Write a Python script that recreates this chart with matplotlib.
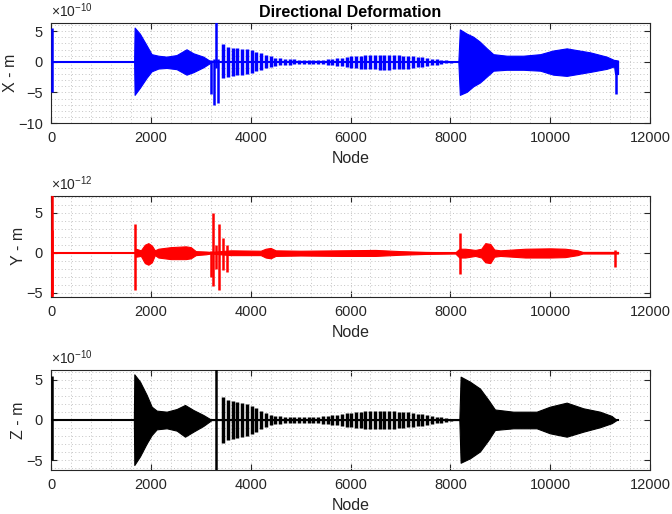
import matplotlib.pyplot as plt
import numpy as np
from matplotlib.ticker import MultipleLocator

plt.rcParams['font.family'] = ['Liberation Sans', 'DejaVu Sans']
plt.rcParams['mathtext.fontset'] = 'custom'
plt.rcParams['mathtext.rm'] = 'Liberation Sans'

last_node = 11360

# nodes of the separate bursts between 3450 and 8010 (same for X and Z)
comb_nodes = [3450, 3545, 3640, 3735, 3830, 3925, 4020, 4115, 4210, 4305,
              4400, 4495, 4590, 4685, 4780, 4875, 4970, 5065, 5160, 5255,
              5350, 5445, 5540, 5635, 5730, 5825, 5920, 6015, 6110, 6205,
              6300, 6395, 6490, 6585, 6680, 6775, 6870, 6965, 7060, 7155,
              7250, 7345, 7440, 7535, 7630, 7725, 7820, 7915, 8010]

# ---- X direction (x 1e-10 m)
x_env_nodes = [1665, 1675, 1780, 1915, 2015, 2150, 2315, 2515, 2715, 2850, 3050, 3185, 3220,
               8160, 8190, 8330, 8460, 8590, 8730, 8860, 9130, 9460, 9800, 10060, 10330,
               10800, 11130, 11280, 11300, 11360]
x_env_top = [0, 5.6, 4.6, 2.7, 1.25, 1.0, 0.85, 1.1, 2.05, 1.4, 0.85, 0.15, 0,
             0, 5.3, 4.6, 4.1, 3.3, 2.2, 1.25, 1.0, 1.0, 1.25, 1.85, 2.2,
             1.55, 0.85, 0.3, 0.3, 0.2]
x_env_bot = [0, -5.4, -4.25, -2.6, -1.55, -1.1, -1.0, -1.2, -2.1, -1.7, -0.9, -0.2, 0,
             0, -5.4, -4.9, -4.0, -3.4, -2.4, -1.45, -1.3, -1.3, -1.45, -2.1, -2.3,
             -1.65, -1.15, -0.75, -2.0, -2.0]
x_spike_nodes = [15, 3200, 3262, 3298, 3350, 11310]
x_spike_top = [5.5, 0.3, 0.5, 6.6, 0.5, 0.0]
x_spike_bot = [-5.0, -5.2, -7.0, -1.0, -6.7, -5.2]
x_comb_top = [2.85, 2.5, 2.3, 2.2, 2.15, 2.05, 1.9, 1.65, 1.4, 1.1,
              0.9, 0.7, 0.55, 0.45, 0.4, 0.38, 0.35, 0.33, 0.32, 0.32,
              0.33, 0.35, 0.4, 0.5, 0.6, 0.7, 0.8, 0.9, 0.95, 1.0,
              1.05, 1.1, 1.13, 1.15, 1.15, 1.13, 1.1, 1.05, 1.0, 0.95,
              0.88, 0.8, 0.72, 0.62, 0.52, 0.42, 0.32, 0.22, 0.15]
x_comb_bot = [-2.63, -2.4, -2.3, -2.2, -2.1, -2.0, -1.8, -1.55, -1.3, -1.0,
              -0.85, -0.7, -0.6, -0.5, -0.45, -0.42, -0.4, -0.38, -0.36, -0.36,
              -0.38, -0.4, -0.45, -0.55, -0.65, -0.75, -0.85, -0.95, -1.05, -1.1,
              -1.15, -1.2, -1.25, -1.28, -1.3, -1.28, -1.25, -1.2, -1.15, -1.1,
              -1.0, -0.9, -0.8, -0.7, -0.58, -0.46, -0.35, -0.25, -0.15]

# ---- Y direction (x 1e-12 m)
y_env_nodes = [1690, 1700, 1800, 1880, 1950, 2020, 2080, 2150, 2400, 2700, 2800, 2900,
               3100, 3200, 3600, 4200, 4300, 4400, 4500, 5000, 5800, 6500, 7000, 7500,
               8100, 8180, 8300, 8500, 8620, 8700, 8800, 8880, 9000, 9500, 10000, 10300,
               10550, 10650, 11280, 11360]
y_env_top = [0, 0.5, 0.3, 1.0, 1.2, 0.9, 0.3, 0.5, 0.7, 0.8, 0.7, 0.2,
             0.15, 0.1, 0.3, 0.25, 0.5, 0.6, 0.3, 0.25, 0.3, 0.35, 0.2, 0.1,
             0.05, 0.5, 0.5, 0.35, 0.5, 1.2, 1.1, 0.4, 0.3, 0.5, 0.55, 0.5,
             0.3, 0.1, 0.1, 0.1]
y_env_bot = [0, -0.5, -0.4, -1.3, -1.5, -1.2, -0.3, -0.6, -0.8, -0.8, -0.7, -0.3,
             -0.2, -0.1, -0.3, -0.3, -0.6, -0.7, -0.4, -0.35, -0.4, -0.4, -0.25, -0.15,
             -0.1, -0.6, -0.6, -0.4, -0.6, -1.2, -1.3, -0.5, -0.4, -0.6, -0.6, -0.55,
             -0.3, -0.1, -0.1, -0.1]
y_spike_nodes = [10, 25, 1683, 3200, 3250, 3300, 3360, 3440, 3520, 8185, 11300]
y_spike_top = [7.2, 2.8, 3.6, 0.2, 5.0, 1.0, 3.6, 1.8, 1.0, 2.5, 0.35]
y_spike_bot = [-5.5, -5.3, -4.7, -3.0, -4.2, -2.0, -4.7, -2.2, -2.4, -2.6, -1.75]

# ---- Z direction (x 1e-10 m)
z_env_nodes = [1660, 1669, 1783, 1917, 2017, 2117, 2317, 2518, 2684, 2851, 3051, 3218,
               8180, 8206, 8393, 8593, 8760, 8893, 9260, 9728, 9995, 10330, 10662,
               10996, 11231, 11331]
z_env_top = [0, 5.66, 4.75, 3.1, 1.65, 1.16, 1.03, 1.36, 1.86, 1.24, 0.62, 0,
             0, 5.37, 4.75, 3.9, 2.5, 1.3, 1.03, 1.03, 1.65, 2.15, 1.45,
             1.03, 0.5, 0]
z_env_bot = [0, -5.58, -4.5, -2.9, -1.86, -1.16, -1.03, -1.32, -2.07, -1.45, -0.74, 0,
             0, -5.3, -4.75, -3.9, -2.5, -1.24, -1.03, -1.03, -1.65, -2.07, -1.45,
             -0.9, -0.4, 0]
z_spike_nodes = [15, 3300]
z_spike_top = [5.5, 6.5]
z_spike_bot = [-5.0, -6.5]
z_comb_top = [2.8, 2.5, 2.3, 2.25, 2.15, 2.0, 1.75, 1.45, 1.15, 0.85,
              0.62, 0.5, 0.45, 0.42, 0.4, 0.4, 0.38, 0.38, 0.38, 0.4,
              0.42, 0.45, 0.5, 0.58, 0.66, 0.75, 0.85, 0.92, 1.0, 1.05,
              1.1, 1.13, 1.16, 1.16, 1.15, 1.12, 1.08, 1.03, 0.98, 0.93,
              0.88, 0.8, 0.72, 0.62, 0.52, 0.42, 0.32, 0.22, 0.12]
z_comb_bot = [-v for v in z_comb_top]

gray = '#262626'

fig = plt.figure(figsize=(6.72, 5.14), dpi=100)
ax1 = fig.add_axes([0.0759, 0.7607, 0.8914, 0.1946])
ax2 = fig.add_axes([0.0759, 0.4228, 0.8914, 0.1959])
ax3 = fig.add_axes([0.0759, 0.0856, 0.8914, 0.1946])


def draw(ax, color, env_n, env_t, env_b, sp_n, sp_t, sp_b, comb_t=None, comb_b=None):
    ax.plot([0, last_node], [0, 0], color=color, lw=1.5, zorder=3)
    ax.fill_between(env_n, env_b, env_t, color=color, lw=0.8, edgecolor=color, zorder=3)
    ax.vlines(sp_n, sp_b, sp_t, color=color, lw=1.8, zorder=3)
    if comb_t is not None:
        ax.vlines(comb_nodes, comb_b, comb_t, color=color, lw=2.5, zorder=3)


draw(ax1, '#0000ff', x_env_nodes, x_env_top, x_env_bot,
     x_spike_nodes, x_spike_top, x_spike_bot, x_comb_top, x_comb_bot)
draw(ax2, '#ff0000', y_env_nodes, y_env_top, y_env_bot,
     y_spike_nodes, y_spike_top, y_spike_bot)
draw(ax3, 'black', z_env_nodes, z_env_top, z_env_bot,
     z_spike_nodes, z_spike_top, z_spike_bot, z_comb_top, z_comb_bot)

ax1.set_ylim(-10, 6.35)
ax1.yaxis.set_major_locator(MultipleLocator(5))
ax2.set_ylim(-5.5, 7.1)
ax2.yaxis.set_major_locator(MultipleLocator(5))
ax3.set_ylim(-6.2, 6.2)
ax3.yaxis.set_major_locator(MultipleLocator(5))

labels = ['X - m', 'Y - m', 'Z - m']
exps = [r'$\times\mathregular{10^{-10}}$', r'$\times\mathregular{10^{-12}}$',
        r'$\times\mathregular{10^{-10}}$']
for ax, lab, ex in zip([ax1, ax2, ax3], labels, exps):
    ax.set_xlim(0, 12000)
    ax.xaxis.set_major_locator(MultipleLocator(2000))
    ax.xaxis.set_minor_locator(MultipleLocator(400))
    ax.yaxis.set_minor_locator(MultipleLocator(1))
    ax.grid(True, which='both', linestyle=(0, (1, 2.5)), color='#c4c4c4', lw=0.7, zorder=0)
    ax.set_axisbelow(True)
    ax.tick_params(which='major', direction='in', length=4, width=0.8,
                   top=True, right=True, colors=gray, labelsize=10.5, pad=6)
    ax.tick_params(which='minor', length=0, top=True, right=True)
    for s in ax.spines.values():
        s.set_color(gray)
        s.set_linewidth(0.8)
    ax.set_xlabel('Node', fontsize=11.5, color=gray, labelpad=4)
    ax.set_ylabel(lab, fontsize=11.5, color=gray, labelpad=0)
    ax.text(0.0, 1.03, ex, transform=ax.transAxes, fontsize=10, color=gray,
            ha='left', va='bottom')

ax1.set_title('Directional Deformation', fontsize=11.5, fontweight='bold',
              color='black', pad=4)

fig.savefig('out.png', dpi=100)
